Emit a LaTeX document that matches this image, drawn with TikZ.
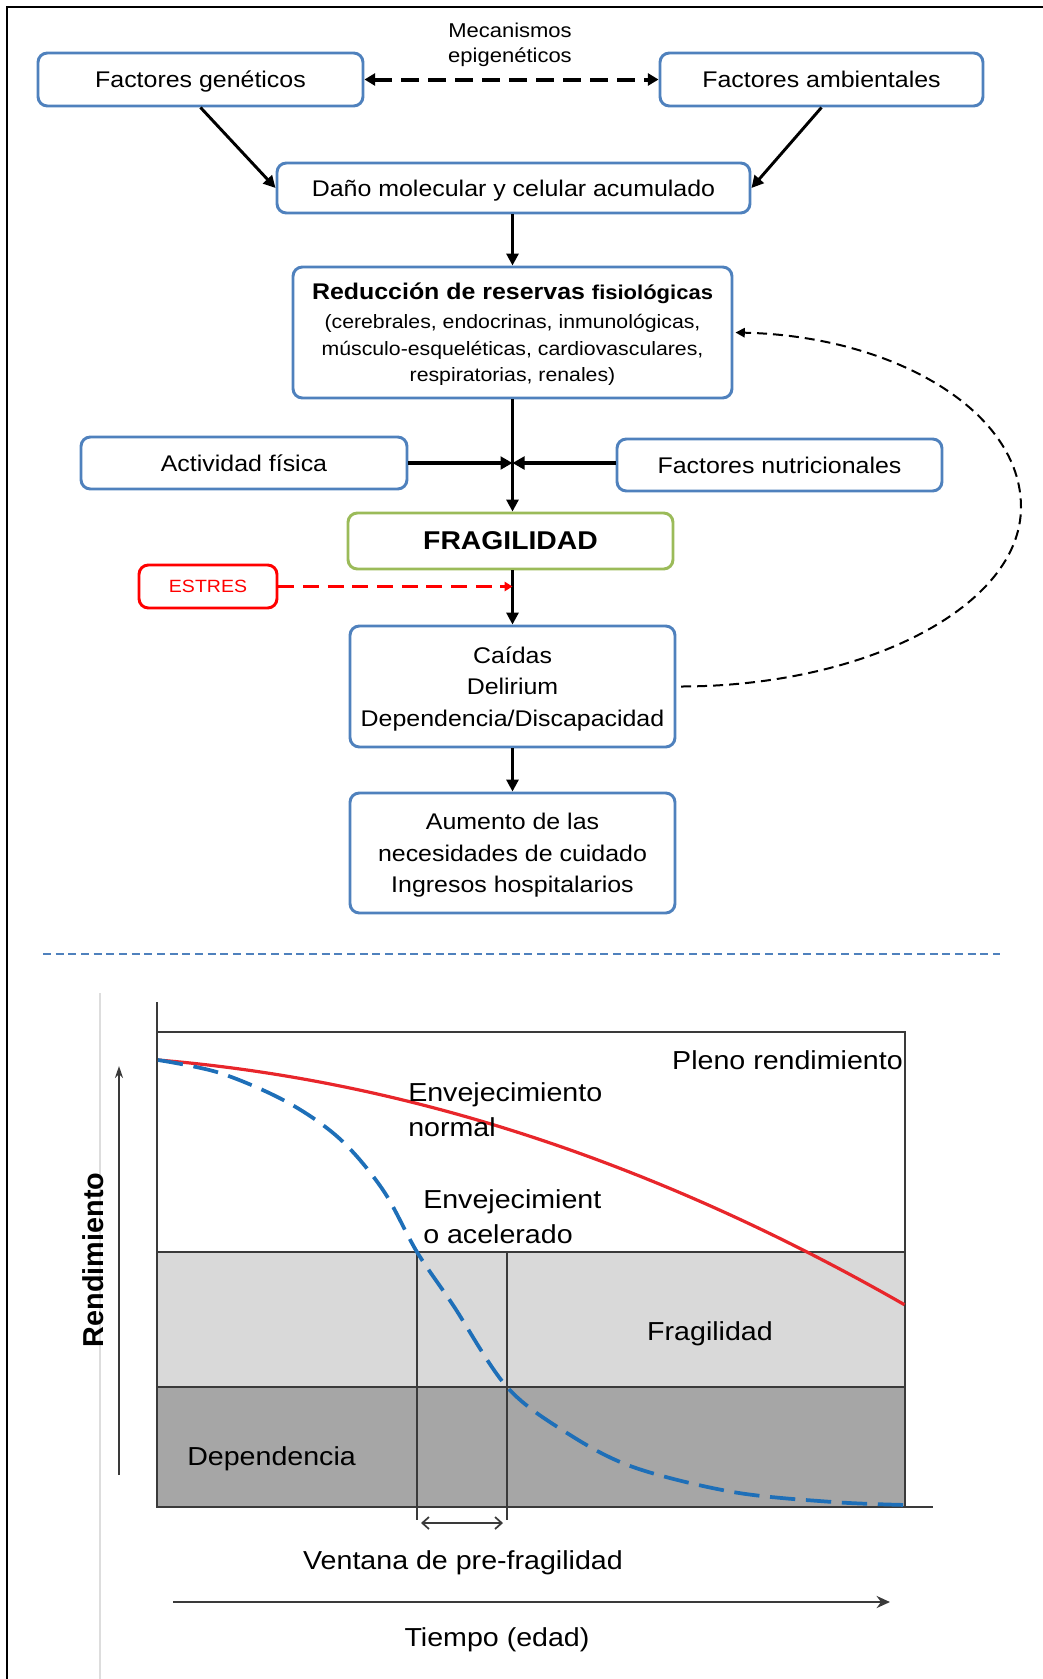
\documentclass[tikz,border=0pt]{standalone}
\usepackage{fontspec}
\setmainfont{Liberation Sans}[FakeStretch=1.1]
\newfontfamily\plainsans{Liberation Sans}
\usetikzlibrary{arrows.meta}
\definecolor{boxblue}{HTML}{4F81BD}
\definecolor{boxgreen}{HTML}{9BBB59}
\definecolor{alertred}{HTML}{FF0000}
\definecolor{curvered}{HTML}{E8262B}
\definecolor{curveblue}{HTML}{1E6FB8}
\definecolor{bandlight}{HTML}{D9D9D9}
\definecolor{banddark}{HTML}{A6A6A6}
\definecolor{chartline}{HTML}{3A3A3A}
\definecolor{faintline}{HTML}{DDDDDD}

\tikzset{
  flowbox/.style={draw=boxblue,line width=2.2pt,rounded corners=7pt,fill=white,
    inner sep=0pt,align=center,text depth=0pt,font=\fontsize{17}{23.6}\selectfont},
  arr/.style={line width=2.2pt,-{Triangle[length=9pt,width=9pt]}},
  sidearr/.style={line width=3pt,-{Triangle[length=9pt,width=9.5pt]}},
  epiarr/.style={line width=3pt,dash pattern=on 13.5pt off 6.75pt,
    {Triangle[length=8pt,width=9pt]}-{Triangle[length=8pt,width=9pt]}},
  stressarr/.style={draw=alertred,line width=2.2pt,dash pattern=on 12pt off 6.5pt,
    -{Triangle[length=6pt,width=7pt]}},
  fbarrow/.style={line width=1.5pt,dash pattern=on 7.5pt off 4.5pt,
    -{Triangle[length=7pt,width=7pt]}},
  chartedge/.style={draw=chartline,line width=1.9pt},
  thinedge/.style={draw=chartline,line width=1.1pt},
  charttext/.style={inner sep=0pt,font=\fontsize{19.5}{26}\selectfont}
}

\begin{document}
\begin{tikzpicture}[x=0.75pt,y=-0.75pt]
\useasboundingbox (0,0) rectangle (1043,1679);

% outer frame (left and top sides)
\draw[line width=1.6pt] (7,1679) -- (7,7) -- (1043,7);

% ---------------- flow chart ----------------
\node[inner sep=0pt,align=center,font=\fontsize{15}{18.75}\selectfont] (mec) at (510,45)
  {Mecanismos\\epigenéticos};
\node[flowbox,minimum width=243.75pt,minimum height=39.75pt] (gen) at (200.5,79.5) {Factores genéticos};
\node[flowbox,minimum width=242.25pt,minimum height=39.75pt] (amb) at (821.5,79.5) {Factores ambientales};
\node[flowbox,minimum width=354.75pt,minimum height=37.5pt] (dano) at (513.5,188) {Daño molecular y celular acumulado};
\node[flowbox,minimum width=329.25pt,minimum height=98.25pt,font=\fontsize{14.5}{20}\selectfont] (res) at (512.5,332.5)
  {{\fontsize{17}{22}\selectfont\bfseries Reducción de reservas {\fontsize{15}{20}\selectfont fisiológicas}}\\[1.5pt]
   (cerebrales, endocrinas, inmunológicas,\\
   músculo-esqueléticas, cardiovasculares,\\
   respiratorias, renales)};
\node[flowbox,minimum width=244.5pt,minimum height=39pt] (act) at (244,463) {Actividad física};
\node[flowbox,minimum width=243.75pt,minimum height=39pt] (nut) at (779.5,465) {Factores nutricionales};
\node[flowbox,draw=boxgreen,minimum width=243.75pt,minimum height=42pt,font=\fontsize{19.3}{24}\selectfont\bfseries] (frag) at (510.5,541) {FRAGILIDAD};
\node[flowbox,draw=alertred,minimum width=103.5pt,minimum height=32.25pt,font=\fontsize{13.3}{16}\selectfont,text=alertred] (estres) at (208,586.5) {ESTRES};
\node[flowbox,minimum width=243.75pt,minimum height=90.75pt] (caidas) at (512.5,686.5) {Caídas\\Delirium\\Dependencia/Discapacidad};
\node[flowbox,minimum width=243.75pt,minimum height=90pt] (aum) at (512.5,853) {Aumento de las\\necesidades de cuidado\\Ingresos hospitalarios};

\draw[epiarr] (gen.east) -- (amb.west);
\draw[arr] (gen.south) -- (dano.west);
\draw[arr] (amb.south) -- (dano.east);
\draw[arr] (dano.south -| res.north) -- (res.north);
\coordinate (join) at (res.south |- 0,463);
\draw[arr] (res.south) -- (res.south |- frag.north);
\draw[sidearr] (act.east |- join) -- (join);
\draw[sidearr] (nut.west |- join) -- (join);
\coordinate (stressin) at (caidas.north |- estres.east);
\draw[arr] (caidas.north |- frag.south) -- (caidas.north);
\draw[stressarr] (estres.east) -- (stressin);
\draw[arr] (caidas.south) -- (aum.north);
\coordinate (fbturn) at (1021,507);
\draw[fbarrow] ([xshift=3.5pt]caidas.east) .. controls (867,686) and (1021,606) .. (fbturn)
  .. controls (1021,411) and (894,336) .. ([xshift=1.5pt]res.east);

% separator
\draw[boxblue,line width=1.4pt,dash pattern=on 6pt off 3.5pt] (43,954) -- (1000,954);

% ---------------- performance chart ----------------
\draw[faintline,line width=0.8pt] (100,993) -- (100,1679);
\fill[bandlight] (158,1252) rectangle (905,1387);
\fill[banddark] (158,1387) rectangle (905,1507);
\draw[chartedge] (158,1032) -- (905,1032) -- (905,1507);
\draw[chartedge] (158,1252) -- (905,1252);
\draw[chartedge] (158,1387) -- (905,1387);
\draw[chartedge] (157,1002) -- (157,1507) -- (933,1507);
\draw[thinedge] (417,1252) -- (417,1520);
\draw[thinedge] (507,1252) -- (507,1520);

% normal ageing
\draw[curvered,line width=2.4pt] plot[domain=0:1,samples=80]
  ({158+747*\x},{1060+62*\x+183*\x*\x});
% accelerated ageing
\draw[curveblue,line width=2.8pt,dash pattern=on 19pt off 8pt] plot[smooth,tension=0.55] coordinates
  {(158,1060) (220,1073) (287,1102) (340,1139) (383,1190) (417,1252) (453,1305)
   (507,1387) (567,1433) (633,1467) (733,1492) (833,1502) (907,1505)};

\draw[thinedge,line width=1.3pt,{Straight Barb[length=5pt,width=9pt]}-{Straight Barb[length=5pt,width=9pt]}]
  (421,1523) -- (503,1523);
\draw[chartline,line width=1.3pt,-{Stealth[length=9pt,width=6pt]}] (119,1475) -- (119,1066);
\draw[chartline,line width=2.2pt,-{Stealth[length=10pt,width=9pt]}] (173,1602) -- (890,1602);

\node[charttext,anchor=east] (pleno) at (903,1060) {Pleno rendimiento};
\node[charttext,anchor=west,align=left] (normal) at (408,1110) {Envejecimiento\\normal};
\node[charttext,anchor=west,align=left] (acel) at (423,1217) {Envejecimient\\o acelerado};
\node[charttext,text depth=0pt] (fraglab) at (710,1331) {Fragilidad};
\node[charttext,anchor=west,text depth=0pt] (dep) at (187,1456) {Dependencia};
\node[charttext,text depth=0pt] (ventana) at (463,1560) {Ventana de pre-fragilidad};
\node[charttext,text depth=0pt] (tiempo) at (497,1637) {Tiempo (edad)};
\node[inner sep=0pt,rotate=90,font=\plainsans\fontsize{21.6}{24}\selectfont\bfseries] (rend) at (93,1260) {Rendimiento};
\end{tikzpicture}
\end{document}
